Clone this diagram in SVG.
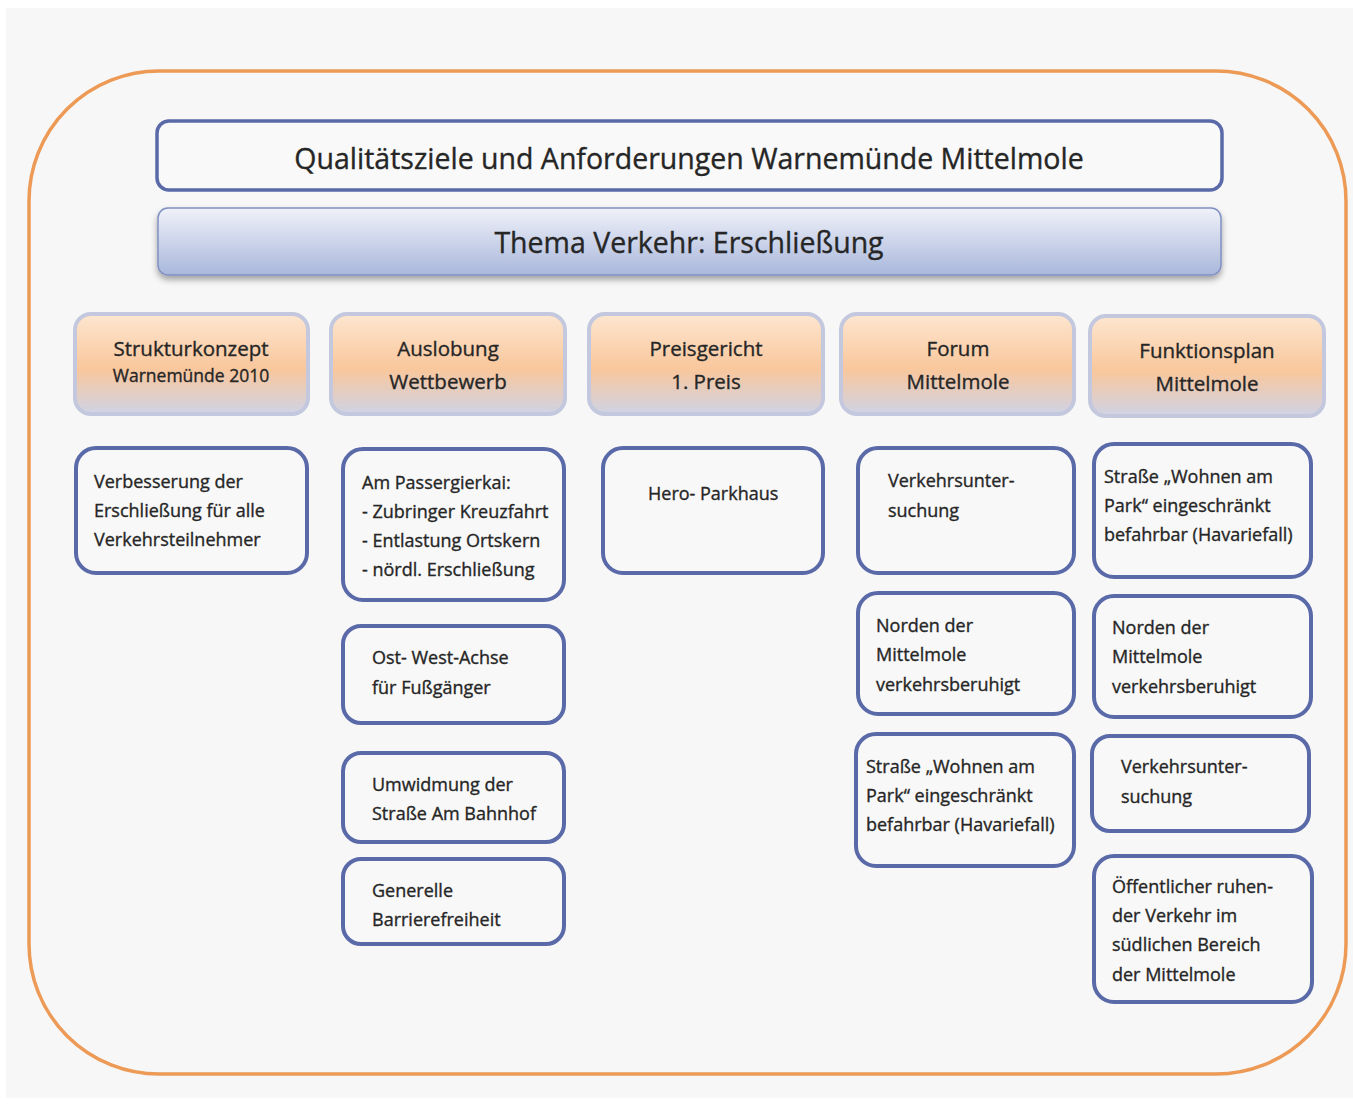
<svg xmlns="http://www.w3.org/2000/svg" width="1353" height="1104" viewBox="0 0 1353 1104">
<defs>
<style>
text{font-family:"Open Sans","Liberation Sans",sans-serif;fill:#262626;stroke:#262626;stroke-width:0.35}
.title{font-size:28.5px;text-anchor:middle}
.hd{font-size:20.5px;text-anchor:middle}
.hs{font-size:17.5px;text-anchor:middle}
.bx{fill:#f8f8f8;stroke:#5a6aa8;stroke-width:4}
.t{font-size:18px}
.hdr{fill:url(#og);stroke:#c3c8de;stroke-width:4}
</style>
<linearGradient id="og" x1="0" y1="0" x2="0" y2="1">
<stop offset="0" stop-color="#fde6d0"/>
<stop offset="0.55" stop-color="#f9c79c"/>
<stop offset="1" stop-color="#cfd3e6"/>
</linearGradient>
<linearGradient id="bg" x1="0" y1="0" x2="0" y2="1">
<stop offset="0" stop-color="#f0f2f9"/>
<stop offset="1" stop-color="#a9b7dc"/>
</linearGradient>
<filter id="sh" x="-5%" y="-20%" width="110%" height="160%">
<feDropShadow dx="0" dy="4" stdDeviation="3" flood-color="#000" flood-opacity="0.35"/>
</filter>
</defs>
<rect x="0" y="0" width="1353" height="1104" fill="#ffffff"/>
<rect x="6" y="8" width="1347" height="1090" fill="#f7f7f7"/>
<rect x="29" y="71" width="1317" height="1003" rx="130" fill="none" stroke="#ec9a56" stroke-width="3.5"/>

<g id="title">
<rect x="157" y="121" width="1065" height="69" rx="12" fill="#f9f9f9" stroke="#5a6aa8" stroke-width="3.5"/>
<text class="title" x="689" y="169">Qualitätsziele und Anforderungen Warnemünde Mittelmole</text>
</g>
<g id="thema">
<rect x="158" y="208" width="1063" height="67" rx="10" fill="url(#bg)" stroke="#8090c2" stroke-width="1.5" filter="url(#sh)"/>
<text class="title" x="689" y="253">Thema Verkehr: Erschließung</text>
</g>

<g id="h1"><rect class="hdr" x="75" y="314" width="233" height="100" rx="16"/>
<text class="hd" x="191" y="356">Strukturkonzept</text><text class="hs" x="191" y="382">Warnemünde 2010</text></g>
<g id="h2"><rect class="hdr" x="331" y="314" width="234" height="100" rx="16"/>
<text class="hd" x="448" y="356">Auslobung</text><text class="hd" x="448" y="389">Wettbewerb</text></g>
<g id="h3"><rect class="hdr" x="589" y="314" width="234" height="100" rx="16"/>
<text class="hd" x="706" y="356">Preisgericht</text><text class="hd" x="706" y="389">1. Preis</text></g>
<g id="h4"><rect class="hdr" x="841" y="314" width="233" height="100" rx="16"/>
<text class="hd" x="958" y="356">Forum</text><text class="hd" x="958" y="389">Mittelmole</text></g>
<g id="h5"><rect class="hdr" x="1090" y="316" width="234" height="100" rx="16"/>
<text class="hd" x="1207" y="358">Funktionsplan</text><text class="hd" x="1207" y="391">Mittelmole</text></g>

<g id="c1a"><rect class="bx" x="76" y="448" width="231" height="125" rx="20"/>
<text class="t" x="94" y="488">Verbesserung der</text><text class="t" x="94" y="517">Erschließung für alle</text><text class="t" x="94" y="546">Verkehrsteilnehmer</text></g>

<g id="c2a"><rect class="bx" x="343" y="449" width="221" height="151" rx="20"/>
<text class="t" x="362" y="489">Am Passergierkai:</text><text class="t" x="362" y="518">- Zubringer Kreuzfahrt</text><text class="t" x="362" y="547">- Entlastung Ortskern</text><text class="t" x="362" y="576">- nördl. Erschließung</text></g>
<g id="c2b"><rect class="bx" x="343" y="626" width="221" height="97" rx="18"/>
<text class="t" x="372" y="664">Ost- West-Achse</text><text class="t" x="372" y="694">für Fußgänger</text></g>
<g id="c2c"><rect class="bx" x="343" y="753" width="221" height="89" rx="18"/>
<text class="t" x="372" y="791">Umwidmung der</text><text class="t" x="372" y="820">Straße Am Bahnhof</text></g>
<g id="c2d"><rect class="bx" x="343" y="859" width="221" height="85" rx="18"/>
<text class="t" x="372" y="897">Generelle</text><text class="t" x="372" y="926">Barrierefreiheit</text></g>

<g id="c3a"><rect class="bx" x="603" y="448" width="220" height="125" rx="20"/>
<text class="t" x="648" y="500">Hero- Parkhaus</text></g>

<g id="c4a"><rect class="bx" x="858" y="448" width="216" height="125" rx="20"/>
<text class="t" x="888" y="487">Verkehrsunter-</text><text class="t" x="888" y="517">suchung</text></g>
<g id="c4b"><rect class="bx" x="858" y="593" width="216" height="121" rx="20"/>
<text class="t" x="876" y="632">Norden der</text><text class="t" x="876" y="661">Mittelmole</text><text class="t" x="876" y="691">verkehrsberuhigt</text></g>
<g id="c4c"><rect class="bx" x="856" y="734" width="218" height="132" rx="20"/>
<text class="t" x="866" y="773">Straße „Wohnen am</text><text class="t" x="866" y="802">Park“ eingeschränkt</text><text class="t" x="866" y="831">befahrbar (Havariefall)</text></g>

<g id="c5a"><rect class="bx" x="1094" y="444" width="217" height="133" rx="20"/>
<text class="t" x="1104" y="483">Straße „Wohnen am</text><text class="t" x="1104" y="512">Park“ eingeschränkt</text><text class="t" x="1104" y="541">befahrbar (Havariefall)</text></g>
<g id="c5b"><rect class="bx" x="1094" y="596" width="217" height="121" rx="20"/>
<text class="t" x="1112" y="634">Norden der</text><text class="t" x="1112" y="663">Mittelmole</text><text class="t" x="1112" y="693">verkehrsberuhigt</text></g>
<g id="c5c"><rect class="bx" x="1092" y="736" width="217" height="95" rx="18"/>
<text class="t" x="1121" y="773">Verkehrsunter-</text><text class="t" x="1121" y="803">suchung</text></g>
<g id="c5d"><rect class="bx" x="1094" y="856" width="218" height="146" rx="20"/>
<text class="t" x="1112" y="893">Öffentlicher ruhen-</text><text class="t" x="1112" y="922">der Verkehr im</text><text class="t" x="1112" y="951">südlichen Bereich</text><text class="t" x="1112" y="981">der Mittelmole</text></g>
<g id="connectors"></g>
</svg>
